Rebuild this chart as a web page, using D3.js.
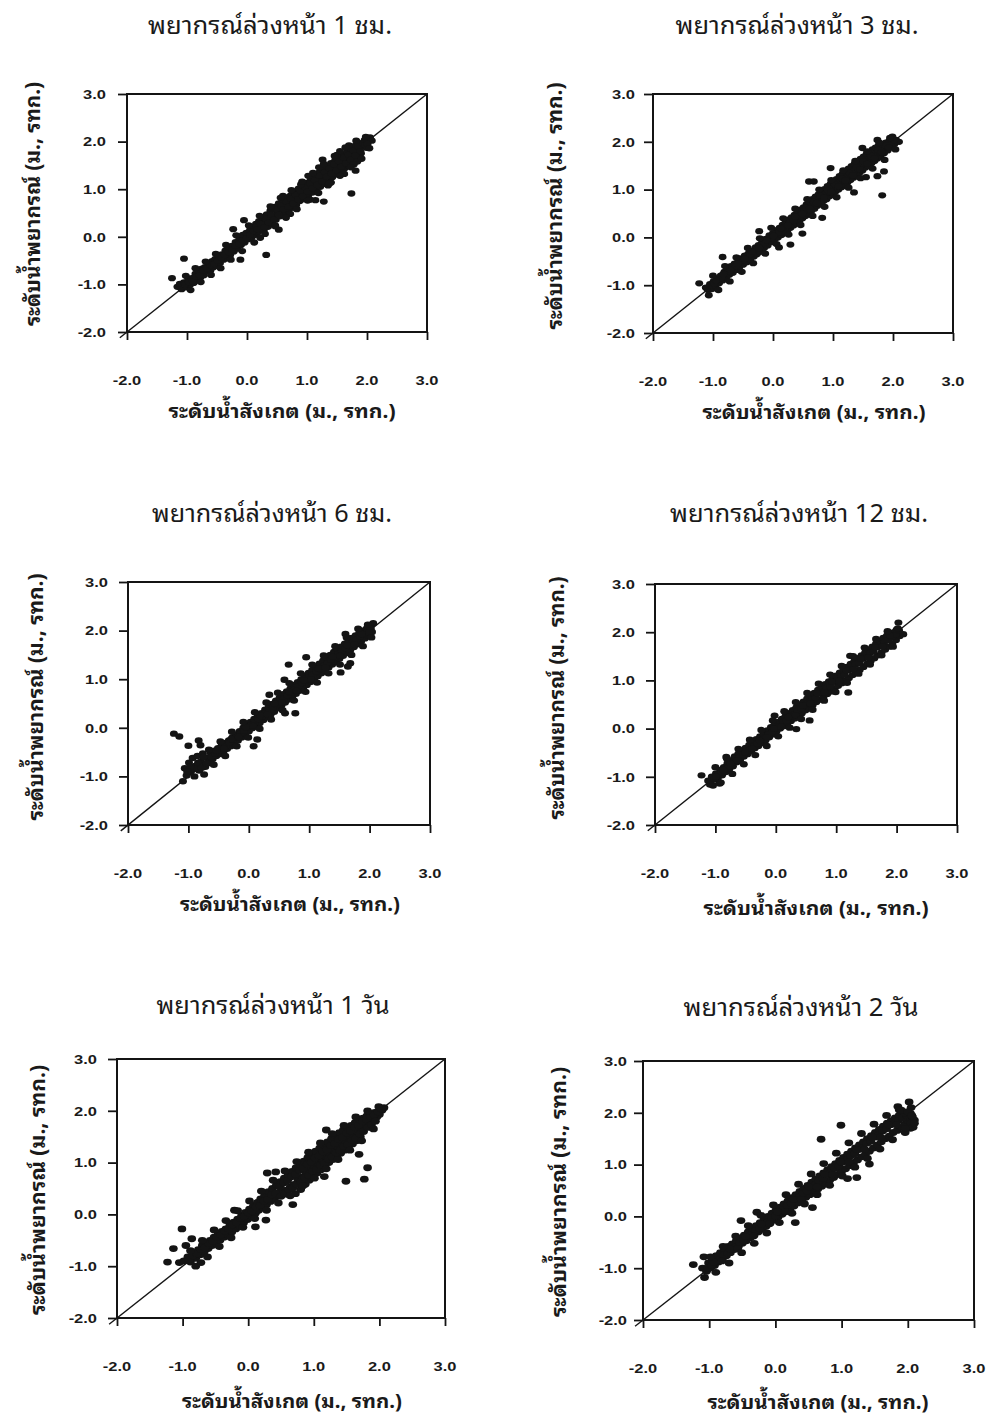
<!DOCTYPE html>
<html>
<head>
<meta charset="utf-8">
<script src="https://cdn.jsdelivr.net/npm/d3@7"></script>
<style>
  body { margin: 0; background: #fff; }
  svg { display: block; }
  .thai { font-family: "Noto Sans Thai Looped", "Noto Serif Thai", "Garuda", "Loma", "Tlwg Typo", "Waree", "Kinnari", "Norasi", "Liberation Sans", "Noto Sans Thai", "Noto Sans", sans-serif; fill: #1a1a1a; }
  .num { font-family: "Liberation Sans", Arial, sans-serif; font-weight: bold; font-size: 13.5px; fill: #1a1a1a; }
</style>
</head>
<body>
<svg id="chart" width="990" height="1418"></svg>
<script>
// Panel titles (forecast lead time)
const panelTitles = [
  "พยากรณ์ล่วงหน้า 1 ชม.",
  "พยากรณ์ล่วงหน้า 3 ชม.",
  "พยากรณ์ล่วงหน้า 6 ชม.",
  "พยากรณ์ล่วงหน้า 12 ชม.",
  "พยากรณ์ล่วงหน้า 1 วัน",
  "พยากรณ์ล่วงหน้า 2 วัน"
];
const xAxisLabel = "ระดับน้ำสังเกต (ม., รทก.)";
const yAxisLabel = "ระดับน้ำพยากรณ์ (ม., รทก.)";
const axisDomain = [-2, 3];
const tickValues = [-2, -1, 0, 1, 2, 3];

// [observed, forecast] water levels (m, MSL)
const pts1h = [
[-1.25,-0.87],[-1.05,-0.46],[-1.16,-1.05],[-1.12,-0.99],[-1.09,-1.1],[-1.05,-0.96],[-1.01,-1.06],[-0.98,-0.88],[-0.95,-1.01],[-0.92,-0.87],[-0.89,-0.97],[-0.86,-0.78],[-0.83,-0.92],[-0.8,-0.76],[-0.78,-0.86],[-0.75,-0.67],[-0.72,-0.81],[-0.7,-0.64],[-0.67,-0.72],[-0.64,-0.56],[-0.61,-0.71],[-0.58,-0.51],[-0.56,-0.64],[-0.53,-0.47],[-0.5,-0.61],[-0.47,-0.42],[-0.45,-0.55],[-0.42,-0.37],[-0.39,-0.48],[-0.36,-0.29],[-0.33,-0.43],[-0.3,-0.24],[-0.28,-0.38],[-0.25,-0.19],[-0.23,0.16],[-0.22,-0.31],[-0.19,-0.11],[-0.16,-0.25],[-0.13,-0.02],[-0.11,-0.48],[-0.1,-0.17],[-0.07,0.04],[-0.05,0.35],[-0.04,-0.12],[-0.01,0.08],[0.02,-0.05],[0.05,0.14],[0.07,-0.03],[0.1,0.21],[0.12,0.03],[0.15,0.27],[0.18,0.09],[0.2,0.33],[0.22,-0.02],[0.24,0.19],[0.26,0.4],[0.28,0.13],[0.3,0.29],[0.32,-0.38],[0.33,0.47],[0.35,0.21],[0.37,0.37],[0.39,0.55],[0.42,0.27],[0.44,0.45],[0.46,0.63],[0.48,0.36],[0.5,0.53],[0.53,0.15],[0.53,0.7],[0.55,0.43],[0.57,0.59],[0.59,0.77],[0.62,0.49],[0.64,0.67],[0.66,0.83],[0.68,0.55],[0.7,0.73],[0.73,0.87],[0.75,0.61],[0.77,0.79],[0.79,0.95],[0.82,0.67],[0.84,0.83],[0.86,1.01],[0.88,0.75],[0.9,0.91],[0.93,1.07],[0.95,0.79],[0.97,0.97],[1.0,1.13],[1.02,0.87],[1.04,1.03],[1.06,1.19],[1.09,0.93],[1.11,1.09],[1.13,1.27],[1.14,0.77],[1.15,0.99],[1.17,1.17],[1.2,1.35],[1.22,1.05],[1.24,1.23],[1.26,1.62],[1.27,1.41],[1.28,0.74],[1.29,1.11],[1.31,1.29],[1.33,1.49],[1.36,1.19],[1.38,1.37],[1.4,1.55],[1.42,1.25],[1.44,1.45],[1.47,1.61],[1.49,1.31],[1.51,1.49],[1.53,1.67],[1.56,1.37],[1.58,1.57],[1.6,1.73],[1.62,1.43],[1.64,1.61],[1.67,1.79],[1.69,1.49],[1.71,1.67],[1.73,1.85],[1.74,0.91],[1.76,1.57],[1.78,1.75],[1.8,1.91],[1.81,1.39],[1.83,1.65],[1.85,1.83],[1.88,1.97],[1.9,1.75],[1.93,1.91],[1.96,2.03],[1.99,1.87],[2.02,2.01],[2.05,2.09],[2.08,2.02],
[-1.03,-1.0],[-0.97,-0.95],[-0.91,-0.93],[-0.85,-0.84],[-0.79,-0.81],[-0.73,-0.71],[-0.67,-0.66],[-0.61,-0.6],[-0.55,-0.57],[-0.49,-0.5],[-0.43,-0.44],[-0.37,-0.38],[-0.31,-0.32],[-0.25,-0.27],[-0.19,-0.19],[-0.13,-0.15],[-0.07,-0.07],[-0.01,-0.03],[0.05,0.04],[0.11,0.12],[0.17,0.16],[0.23,0.27],[0.29,0.2],[0.31,0.38],[0.36,0.3],[0.4,0.46],[0.45,0.36],[0.49,0.58],[0.53,0.46],[0.57,0.66],[0.61,0.58],[0.65,0.74],[0.69,0.63],[0.73,0.8],[0.77,0.7],[0.81,0.88],[0.85,0.79],[0.89,0.96],[0.93,0.85],[0.97,1.04],[1.01,0.95],[1.05,1.12],[1.09,1.02],[1.13,1.19],[1.17,1.09],[1.21,1.28],[1.25,1.16],[1.29,1.36],[1.33,1.26],[1.37,1.44],[1.41,1.33],[1.45,1.52],[1.49,1.4],[1.53,1.59],[1.57,1.47],[1.61,1.66],[1.65,1.54],[1.69,1.72],[1.73,1.62],[1.77,1.82],[1.81,1.71],[1.85,1.9],[1.89,1.8],[1.93,1.96],[1.97,1.93],[2.01,1.95],
[0.6,0.86],[0.72,0.48],[0.9,1.1],[1.05,0.78],[1.2,1.46],[1.35,1.08],[1.5,1.72],[1.62,1.32],[1.7,1.92],[1.84,1.58],[1.02,1.28],[1.4,1.14],[1.55,1.8],[1.78,1.52],[0.4,0.62],[0.47,0.22],
[-1.02,-0.82],[-0.94,-1.12],[-0.86,-0.66],[-0.77,-0.95],[-0.69,-0.52],[-0.6,-0.8],[-0.52,-0.36],[-0.44,-0.66],[-0.35,-0.17],[-0.27,-0.48],[-0.18,0.03],[-0.08,-0.3],[0.03,0.24],[0.12,-0.12],[0.21,0.44],[0.3,0.06],[0.39,0.64],[0.47,0.24],[0.56,0.82],[0.65,0.4],[0.74,0.98],[0.83,0.58],[0.92,1.16],[1.01,0.76],[1.1,1.34],[1.19,0.92],[1.28,1.53],[1.37,1.12],[1.46,1.7],[1.55,1.28],[1.64,1.88],[1.73,1.46],[1.82,2.02],[1.91,1.64],[1.98,2.1],[2.04,1.86]
];
const pts3h = [
[-1.23,-0.96],[-1.07,-1.21],[-0.84,-0.41],[-1.12,-1.05],[-1.08,-1.1],[-1.05,-0.98],[-1.02,-1.08],[-0.99,-0.92],[-0.96,-1.02],[-0.93,-0.86],[-0.9,-0.96],[-0.87,-0.8],[-0.84,-0.9],[-0.81,-0.72],[-0.78,-0.84],[-0.76,-0.66],[-0.73,-0.78],[-0.7,-0.6],[-0.67,-0.74],[-0.64,-0.55],[-0.61,-0.68],[-0.58,-0.5],[-0.56,-0.62],[-0.53,-0.44],[-0.5,-0.57],[-0.47,-0.38],[-0.44,-0.52],[-0.41,-0.34],[-0.38,-0.46],[-0.35,-0.28],[-0.32,-0.4],[-0.29,-0.21],[-0.27,-0.35],[-0.24,-0.16],[-0.23,0.13],[-0.21,-0.3],[-0.18,-0.09],[-0.15,-0.22],[-0.12,-0.03],[-0.09,-0.17],[-0.06,0.04],[-0.03,-0.1],[0.0,0.09],[0.03,-0.04],[0.06,0.15],[0.08,0.0],[0.1,-0.21],[0.11,0.2],[0.14,0.05],[0.16,0.26],[0.19,0.1],[0.21,0.31],[0.24,0.15],[0.26,0.37],[0.29,-0.15],[0.29,0.2],[0.31,0.42],[0.34,0.25],[0.36,0.47],[0.39,0.3],[0.41,0.53],[0.44,0.35],[0.46,0.58],[0.49,0.08],[0.49,0.4],[0.51,0.63],[0.54,0.45],[0.56,0.69],[0.59,0.5],[0.6,1.17],[0.61,0.74],[0.64,0.56],[0.66,0.8],[0.68,1.17],[0.69,0.6],[0.71,0.85],[0.74,0.66],[0.76,0.9],[0.79,0.7],[0.81,0.96],[0.82,0.41],[0.84,0.76],[0.86,1.01],[0.89,0.8],[0.91,1.07],[0.94,0.86],[0.96,1.45],[0.96,1.12],[0.99,0.9],[1.01,1.17],[1.04,0.96],[1.06,1.22],[1.09,1.0],[1.11,1.28],[1.14,1.05],[1.16,1.33],[1.19,1.1],[1.21,1.38],[1.24,1.15],[1.26,1.44],[1.29,1.2],[1.31,1.49],[1.34,1.25],[1.35,0.94],[1.36,1.54],[1.39,1.3],[1.41,1.59],[1.44,1.35],[1.46,1.64],[1.49,1.87],[1.49,1.4],[1.51,1.69],[1.54,1.46],[1.55,1.26],[1.56,1.74],[1.59,1.5],[1.61,1.79],[1.64,1.55],[1.66,1.84],[1.69,1.6],[1.71,1.88],[1.74,2.04],[1.74,1.28],[1.74,1.65],[1.76,1.92],[1.79,1.7],[1.82,0.88],[1.82,1.95],[1.85,1.38],[1.85,1.76],[1.88,1.98],[1.91,1.82],[1.94,2.02],[1.97,1.88],[1.99,2.11],[2.02,1.95],[2.05,2.04],[2.1,2.0],
[-1.1,-1.07],[-1.04,-1.0],[-0.98,-0.97],[-0.92,-0.88],[-0.86,-0.85],[-0.8,-0.76],[-0.74,-0.72],[-0.68,-0.64],[-0.62,-0.6],[-0.56,-0.52],[-0.5,-0.48],[-0.44,-0.4],[-0.38,-0.36],[-0.32,-0.28],[-0.26,-0.24],[-0.2,-0.15],[-0.14,-0.12],[-0.08,-0.03],[-0.02,0.0],[0.04,0.08],[0.1,0.11],[0.16,0.2],[0.22,0.23],[0.28,0.32],[0.34,0.35],[0.4,0.44],[0.46,0.46],[0.52,0.56],[0.58,0.59],[0.64,0.68],[0.7,0.71],[0.76,0.8],[0.82,0.83],[0.88,0.92],[0.94,0.95],[1.0,1.04],[1.06,1.07],[1.12,1.16],[1.18,1.19],[1.24,1.28],[1.3,1.31],[1.36,1.4],[1.42,1.43],[1.48,1.52],[1.54,1.55],[1.6,1.64],[1.66,1.67],[1.72,1.76],[1.78,1.79],[1.84,1.88],[1.9,1.9],[1.96,1.97],[2.02,2.03],
[-0.95,-0.9],[-0.83,-0.77],[-0.71,-0.68],[-0.59,-0.55],[-0.47,-0.45],[-0.35,-0.3],[-0.23,-0.22],[-0.11,-0.06],[0.01,0.03],[0.13,0.19],[0.25,0.25],[0.37,0.43],[0.49,0.49],[0.55,0.62],[0.61,0.6],[0.67,0.75],[0.73,0.72],[0.79,0.87],[0.85,0.83],[0.91,0.99],[0.97,0.95],[1.03,1.11],[1.09,1.07],[1.15,1.23],[1.21,1.19],[1.27,1.35],[1.33,1.3],[1.39,1.47],[1.45,1.42],[1.51,1.59],[1.57,1.54],[1.63,1.71],[1.69,1.66],[1.75,1.83],[1.81,1.78],[1.87,1.93],[1.93,1.88],
[-1.0,-0.8],[-0.91,-1.1],[-0.8,-0.6],[-0.72,-0.92],[-0.61,-0.42],[-0.52,-0.72],[-0.42,-0.22],[-0.33,-0.54],[-0.22,-0.02],[-0.13,-0.34],[-0.03,0.2],[0.06,-0.14],[0.17,0.4],[0.26,0.06],[0.37,0.6],[0.46,0.26],[0.57,0.8],[0.66,0.45],[0.77,1.0],[0.86,0.64],[0.97,1.2],[1.06,0.84],[1.17,1.4],[1.26,1.04],[1.37,1.6],[1.46,1.24],[1.57,1.8],[1.66,1.44],[1.77,1.98],[1.86,1.62],[1.95,2.08],[2.04,1.84]
];
const pts6h = [
[-1.24,-0.12],[-1.15,-0.18],[-1.0,-0.37],[-0.83,-0.26],[-0.8,-0.36],[-1.09,-1.1],[-1.06,-0.83],[-1.03,-0.98],[-0.99,-0.72],[-0.96,-0.9],[-0.93,-0.62],[-0.9,-1.0],[-0.88,-0.78],[-0.85,-0.58],[-0.82,-0.88],[-0.79,-0.7],[-0.76,-0.53],[-0.74,-0.96],[-0.72,-0.8],[-0.69,-0.62],[-0.66,-0.72],[-0.63,-0.52],[-0.6,-0.64],[-0.57,-0.47],[-0.54,-0.58],[-0.51,-0.42],[-0.48,-0.54],[-0.45,-0.37],[-0.42,-0.49],[-0.39,-0.31],[-0.36,-0.43],[-0.33,-0.26],[-0.3,-0.38],[-0.27,-0.2],[-0.24,-0.33],[-0.21,-0.14],[-0.18,-0.26],[-0.15,-0.07],[-0.12,-0.2],[-0.09,0.0],[-0.06,-0.13],[-0.03,0.06],[0.0,-0.07],[0.03,0.12],[0.06,-0.01],[0.08,-0.38],[0.09,0.18],[0.12,0.05],[0.14,-0.24],[0.15,0.25],[0.18,0.1],[0.21,0.3],[0.24,0.16],[0.27,0.37],[0.3,0.22],[0.33,0.43],[0.34,0.68],[0.36,0.27],[0.39,0.49],[0.42,0.33],[0.45,0.56],[0.48,0.4],[0.51,0.62],[0.54,0.46],[0.57,0.69],[0.59,0.99],[0.6,0.3],[0.6,0.52],[0.63,0.75],[0.66,1.3],[0.66,0.58],[0.69,0.81],[0.72,0.64],[0.75,0.88],[0.77,0.3],[0.78,0.7],[0.81,0.94],[0.84,0.76],[0.87,1.0],[0.9,0.82],[0.93,1.07],[0.95,1.45],[0.96,0.88],[0.99,1.13],[1.02,0.94],[1.05,1.19],[1.08,1.0],[1.11,1.25],[1.14,1.06],[1.17,1.32],[1.2,1.12],[1.23,1.38],[1.26,1.18],[1.29,1.44],[1.32,1.24],[1.35,1.5],[1.38,1.3],[1.41,1.56],[1.44,1.36],[1.47,1.62],[1.5,1.42],[1.52,1.14],[1.53,1.67],[1.56,1.48],[1.59,1.73],[1.6,1.93],[1.62,1.54],[1.64,1.26],[1.65,1.79],[1.68,1.33],[1.68,1.6],[1.71,1.85],[1.74,1.66],[1.77,1.9],[1.8,1.72],[1.83,1.95],[1.86,1.78],[1.89,2.0],[1.92,1.84],[1.95,2.04],[1.98,1.9],[2.01,2.08],[2.04,1.97],[2.06,2.15],
[-0.62,-0.6],[-0.56,-0.53],[-0.5,-0.48],[-0.44,-0.42],[-0.38,-0.37],[-0.32,-0.3],[-0.26,-0.24],[-0.2,-0.19],[-0.14,-0.12],[-0.08,-0.06],[-0.02,0.0],[0.04,0.06],[0.1,0.11],[0.16,0.18],[0.22,0.23],[0.28,0.3],[0.34,0.35],[0.4,0.42],[0.46,0.48],[0.52,0.55],[0.58,0.6],[0.64,0.67],[0.7,0.72],[0.76,0.79],[0.82,0.85],[0.88,0.92],[0.94,0.97],[1.0,1.04],[1.06,1.09],[1.12,1.16],[1.18,1.21],[1.24,1.28],[1.3,1.33],[1.36,1.4],[1.42,1.45],[1.48,1.52],[1.54,1.57],[1.6,1.64],[1.66,1.69],[1.72,1.76],[1.78,1.81],[1.84,1.88],[1.9,1.92],[1.96,1.98],[2.02,2.04],
[-0.9,-0.85],[-0.84,-0.72],[-0.78,-0.82],[-0.7,-0.74],[-0.75,-0.6],[-0.97,-0.8],[-1.02,-0.9],
[-0.53,-0.47],[-0.41,-0.43],[-0.29,-0.23],[-0.17,-0.19],[-0.05,0.01],[0.07,0.04],[0.19,0.26],[0.31,0.28],[0.43,0.5],[0.55,0.52],[0.67,0.74],[0.79,0.76],[0.91,0.98],[1.03,1.0],[1.15,1.22],[1.27,1.24],[1.39,1.46],[1.51,1.48],[1.63,1.7],[1.75,1.72],[1.87,1.93],[1.99,1.96],
[-0.66,-0.45],[-0.58,-0.76],[-0.47,-0.28],[-0.39,-0.58],[-0.28,-0.08],[-0.2,-0.38],[-0.09,0.12],[-0.01,-0.2],[0.1,0.32],[0.18,-0.02],[0.29,0.52],[0.37,0.17],[0.48,0.72],[0.56,0.36],[0.67,0.92],[0.75,0.56],[0.86,1.12],[0.94,0.74],[1.05,1.3],[1.13,0.93],[1.24,1.49],[1.32,1.12],[1.43,1.68],[1.51,1.3],[1.62,1.86],[1.7,1.5],[1.81,2.04],[1.89,1.68],[1.97,2.12],[2.03,1.86]
];
const pts12h = [
[-1.23,-0.97],[-1.12,-1.08],[-1.09,-1.16],[-1.06,-1.0],[-1.04,-1.18],[-1.02,-1.06],[-0.99,-0.93],[-0.96,-1.04],[-0.93,-1.14],[-0.92,-0.86],[-0.89,-0.97],[-0.86,-0.8],[-0.83,-0.9],[-0.82,-0.59],[-0.8,-0.72],[-0.77,-0.84],[-0.74,-0.66],[-0.71,-0.78],[-0.68,-0.58],[-0.65,-0.7],[-0.62,-0.52],[-0.59,-0.64],[-0.56,-0.46],[-0.53,-0.58],[-0.5,-0.4],[-0.47,-0.53],[-0.44,-0.34],[-0.41,-0.47],[-0.38,-0.28],[-0.35,-0.41],[-0.32,-0.22],[-0.29,-0.36],[-0.26,-0.16],[-0.23,-0.3],[-0.2,-0.1],[-0.17,-0.24],[-0.14,-0.04],[-0.11,-0.18],[-0.08,0.03],[-0.05,-0.12],[-0.02,0.27],[-0.02,0.08],[0.01,-0.06],[0.04,0.14],[0.07,0.0],[0.1,0.2],[0.13,0.05],[0.16,0.26],[0.19,0.1],[0.22,0.32],[0.25,0.16],[0.28,0.38],[0.31,0.21],[0.34,-0.01],[0.34,0.44],[0.37,0.27],[0.4,0.5],[0.43,0.32],[0.46,0.56],[0.49,0.38],[0.52,0.62],[0.55,0.43],[0.56,0.17],[0.58,0.68],[0.61,0.49],[0.64,0.74],[0.67,0.55],[0.7,0.8],[0.73,0.6],[0.76,0.86],[0.79,0.66],[0.82,0.92],[0.85,0.72],[0.88,0.98],[0.91,0.77],[0.94,1.04],[0.97,0.83],[1.0,1.1],[1.03,0.89],[1.06,1.16],[1.09,0.94],[1.12,1.22],[1.15,1.0],[1.18,1.28],[1.2,0.75],[1.21,1.05],[1.23,1.51],[1.24,1.34],[1.27,1.11],[1.3,1.4],[1.33,1.17],[1.36,1.46],[1.39,1.22],[1.42,1.52],[1.45,1.28],[1.48,1.58],[1.51,1.34],[1.54,1.64],[1.57,1.4],[1.6,1.7],[1.63,1.46],[1.66,1.76],[1.69,1.52],[1.72,1.82],[1.75,1.58],[1.78,1.88],[1.81,1.64],[1.84,1.93],[1.87,1.7],[1.9,1.98],[1.93,1.76],[1.96,2.0],[1.99,1.84],[2.03,2.2],[2.05,1.92],[2.11,1.96],
[-1.08,-1.08],[-1.02,-1.03],[-0.96,-0.95],[-0.9,-0.91],[-0.84,-0.84],[-0.78,-0.79],[-0.72,-0.71],[-0.66,-0.67],[-0.6,-0.6],[-0.54,-0.55],[-0.48,-0.47],[-0.42,-0.43],[-0.36,-0.36],[-0.3,-0.31],[-0.24,-0.23],[-0.18,-0.19],[-0.12,-0.12],[-0.06,-0.07],[0.0,0.01],[0.06,0.05],[0.12,0.13],[0.18,0.17],[0.24,0.25],[0.3,0.29],[0.36,0.37],[0.42,0.41],[0.48,0.49],[0.54,0.53],[0.6,0.61],[0.66,0.64],[0.72,0.73],[0.78,0.76],[0.84,0.85],[0.9,0.88],[0.96,0.97],[1.02,1.0],[1.08,1.09],[1.14,1.12],[1.2,1.21],[1.26,1.24],[1.32,1.33],[1.38,1.36],[1.44,1.45],[1.5,1.48],[1.56,1.57],[1.62,1.6],[1.68,1.69],[1.74,1.72],[1.8,1.8],[1.86,1.84],[1.92,1.9],[1.98,1.95],[2.04,2.04],
[-0.99,-1.0],[-0.87,-0.86],[-0.75,-0.73],[-0.63,-0.66],[-0.51,-0.49],[-0.39,-0.42],[-0.27,-0.24],[-0.15,-0.18],[-0.03,0.0],[0.09,0.04],[0.21,0.24],[0.33,0.28],[0.45,0.48],[0.57,0.52],[0.69,0.73],[0.81,0.75],[0.93,0.97],[1.05,0.99],[1.17,1.21],[1.29,1.23],[1.41,1.45],[1.53,1.47],[1.65,1.69],[1.77,1.71],[1.89,1.93],[2.0,2.05],
[-1.0,-0.8],[-0.91,-1.12],[-0.81,-0.62],[-0.72,-0.94],[-0.62,-0.42],[-0.53,-0.74],[-0.43,-0.23],[-0.34,-0.55],[-0.24,-0.03],[-0.15,-0.36],[-0.05,0.17],[0.04,-0.16],[0.14,0.36],[0.23,0.02],[0.33,0.55],[0.42,0.2],[0.52,0.74],[0.61,0.39],[0.71,0.93],[0.8,0.58],[0.9,1.12],[0.99,0.76],[1.09,1.3],[1.18,0.95],[1.28,1.5],[1.37,1.14],[1.47,1.68],[1.56,1.33],[1.66,1.86],[1.75,1.52],[1.85,2.02],[1.94,1.7],[2.02,2.08]
];
const pts1d = [
[-1.23,-0.92],[-1.14,-0.66],[-1.01,-0.28],[-1.05,-0.93],[-0.95,-0.6],[-0.86,-0.47],[-0.72,-0.93],[-0.98,-0.9],[-0.92,-0.82],[-0.88,-0.92],[-0.84,-0.74],[-0.8,-0.85],[-0.76,-0.68],[-0.73,-0.78],[-0.7,-0.6],[-0.67,-0.72],[-0.64,-0.55],[-0.61,-0.66],[-0.58,-0.5],[-0.55,-0.6],[-0.52,-0.44],[-0.49,-0.55],[-0.46,-0.39],[-0.43,-0.5],[-0.4,-0.33],[-0.37,-0.44],[-0.34,-0.28],[-0.31,-0.39],[-0.28,-0.21],[-0.25,-0.34],[-0.22,-0.15],[-0.21,0.08],[-0.19,-0.28],[-0.16,-0.09],[-0.13,-0.22],[-0.1,-0.02],[-0.07,-0.16],[-0.04,0.04],[-0.01,-0.1],[0.02,0.1],[0.05,-0.04],[0.08,0.17],[0.11,-0.24],[0.11,0.02],[0.14,0.23],[0.16,0.08],[0.19,0.3],[0.22,0.14],[0.25,0.37],[0.27,-0.11],[0.28,0.19],[0.29,0.8],[0.31,0.44],[0.34,0.25],[0.37,0.5],[0.4,0.3],[0.42,0.82],[0.43,0.57],[0.46,0.36],[0.49,0.63],[0.52,0.42],[0.55,0.7],[0.58,0.47],[0.61,0.76],[0.64,0.53],[0.67,0.83],[0.68,0.19],[0.7,0.58],[0.72,0.4],[0.73,0.9],[0.76,0.66],[0.79,0.96],[0.8,0.48],[0.82,0.72],[0.85,1.03],[0.87,0.58],[0.88,0.8],[0.91,1.1],[0.93,0.66],[0.94,0.87],[0.97,1.16],[0.99,0.74],[1.0,0.94],[1.03,1.22],[1.05,0.8],[1.06,1.0],[1.09,1.28],[1.11,0.86],[1.12,1.06],[1.15,1.34],[1.16,0.73],[1.17,0.94],[1.18,1.12],[1.19,1.63],[1.21,1.4],[1.23,1.0],[1.24,1.18],[1.27,1.46],[1.29,1.06],[1.3,1.24],[1.33,1.52],[1.35,1.12],[1.36,1.3],[1.39,1.58],[1.41,1.18],[1.42,1.36],[1.45,1.63],[1.47,1.24],[1.48,1.42],[1.49,0.64],[1.51,1.68],[1.53,1.3],[1.54,1.48],[1.57,1.72],[1.59,1.36],[1.6,1.54],[1.63,1.77],[1.65,1.42],[1.66,1.6],[1.69,1.16],[1.69,1.84],[1.71,1.5],[1.72,1.66],[1.75,1.86],[1.77,0.68],[1.78,1.72],[1.81,1.9],[1.82,0.9],[1.84,1.78],[1.87,1.94],[1.9,1.84],[1.93,1.97],[1.96,1.88],[2.0,1.93],[2.04,2.01],[2.07,2.06],
[-0.9,-0.88],[-0.84,-0.8],[-0.78,-0.76],[-0.72,-0.68],[-0.66,-0.64],[-0.6,-0.56],[-0.54,-0.52],[-0.48,-0.44],[-0.42,-0.4],[-0.36,-0.32],[-0.3,-0.28],[-0.24,-0.2],[-0.18,-0.16],[-0.12,-0.08],[-0.06,-0.04],[0.0,0.03],[0.06,0.06],[0.12,0.14],[0.18,0.17],[0.24,0.26],[0.3,0.29],[0.36,0.38],[0.42,0.41],
[0.48,0.53],[0.54,0.61],[0.6,0.65],[0.66,0.73],[0.72,0.77],[0.78,0.85],[0.84,0.89],[0.9,0.97],[0.96,1.01],[1.02,1.09],[1.08,1.13],[1.14,1.21],[1.2,1.25],[1.26,1.33],[1.32,1.37],[1.38,1.45],[1.44,1.49],[1.5,1.57],[1.56,1.61],[1.62,1.68],[1.68,1.72],[1.74,1.8],[1.8,1.83],[1.86,1.89],[1.92,1.92],[1.98,1.98],[2.03,2.04],
[0.5,0.35],[0.56,0.39],[0.62,0.47],[0.68,0.51],[0.74,0.58],[0.8,0.63],[0.86,0.71],[0.92,0.75],[0.98,0.83],[1.04,0.87],[1.1,0.95],[1.16,0.99],[1.22,1.07],[1.28,1.11],[1.34,1.19],[1.4,1.23],[1.46,1.31],[1.52,1.35],[1.58,1.43],[1.64,1.47],[1.7,1.55],[1.76,1.6],[1.82,1.68],[1.88,1.73],[1.94,1.8],
[-0.88,-0.7],[-0.8,-1.0],[-0.7,-0.5],[-0.62,-0.82],[-0.52,-0.3],[-0.44,-0.62],[-0.34,-0.12],[-0.26,-0.45],[-0.16,0.07],[-0.08,-0.25],[0.02,0.26],[0.1,-0.08],[0.2,0.45],[0.28,0.08],[0.38,0.66],[0.46,0.22],[0.56,0.84],[0.64,0.36],[0.74,1.02],[0.83,0.55],[0.92,1.2],[1.01,0.7],[1.1,1.38],[1.19,0.88],[1.28,1.56],[1.37,1.06],[1.46,1.72],[1.55,1.24],[1.64,1.88],[1.73,1.42],[1.82,2.0],[1.91,1.65],[1.99,2.08]
];
const pts2d = [
[-1.24,-0.93],[-1.07,-1.18],[-1.08,-0.78],[-1.1,-1.0],[-1.04,-1.06],[-1.01,-0.9],[-0.98,-1.0],[-0.95,-0.84],[-0.92,-0.95],[-0.89,-0.76],[-0.86,-0.88],[-0.83,-0.7],[-0.8,-0.82],[-0.77,-0.64],[-0.74,-0.76],[-0.71,-0.58],[-0.68,-0.7],[-0.65,-0.53],[-0.62,-0.64],[-0.59,-0.47],[-0.56,-0.58],[-0.53,-0.42],[-0.52,-0.08],[-0.5,-0.52],[-0.47,-0.36],[-0.44,-0.47],[-0.41,-0.3],[-0.38,-0.41],[-0.35,-0.24],[-0.32,-0.36],[-0.29,-0.18],[-0.28,0.08],[-0.26,-0.3],[-0.23,-0.12],[-0.2,-0.25],[-0.17,-0.06],[-0.14,-0.19],[-0.11,0.0],[-0.08,-0.13],[-0.05,0.06],[-0.02,-0.07],[0.01,0.12],[0.04,-0.01],[0.07,0.18],[0.1,0.04],[0.13,0.24],[0.16,0.1],[0.19,0.3],[0.22,0.15],[0.25,0.36],[0.28,0.2],[0.3,-0.12],[0.31,0.42],[0.34,0.26],[0.37,0.48],[0.4,0.31],[0.43,0.54],[0.46,0.37],[0.49,0.6],[0.52,0.42],[0.55,0.66],[0.56,0.17],[0.58,0.47],[0.61,0.72],[0.64,0.53],[0.67,0.78],[0.69,1.49],[0.7,0.58],[0.73,0.84],[0.76,0.64],[0.79,0.9],[0.82,0.7],[0.85,0.96],[0.88,0.75],[0.91,1.02],[0.94,0.81],[0.97,1.08],[0.99,1.76],[1.0,0.87],[1.03,1.14],[1.06,0.92],[1.09,0.73],[1.09,1.2],[1.12,0.98],[1.15,1.26],[1.18,1.04],[1.21,1.32],[1.23,0.75],[1.24,1.09],[1.27,1.38],[1.3,1.15],[1.33,1.44],[1.36,1.2],[1.39,1.5],[1.42,1.01],[1.42,1.26],[1.45,1.56],[1.48,1.32],[1.51,1.62],[1.54,1.38],[1.57,1.68],[1.6,1.44],[1.63,1.74],[1.66,1.5],[1.69,1.8],[1.72,1.55],[1.75,1.85],[1.78,1.62],[1.81,1.9],[1.84,1.66],[1.85,2.12],[1.87,1.95],[1.9,1.72],[1.93,2.0],[1.96,1.78],[1.99,1.86],[2.02,2.21],[2.04,1.7],[2.07,1.92],[2.1,1.86],
[-1.02,-1.0],[-0.96,-0.95],[-0.9,-0.87],[-0.84,-0.83],[-0.78,-0.75],[-0.72,-0.71],[-0.66,-0.63],[-0.6,-0.59],[-0.54,-0.51],[-0.48,-0.47],[-0.42,-0.39],[-0.36,-0.35],[-0.3,-0.27],[-0.24,-0.23],[-0.18,-0.15],[-0.12,-0.11],[-0.06,-0.03],[0.0,0.01],[0.06,0.09],[0.12,0.13],[0.18,0.21],[0.24,0.25],[0.3,0.33],[0.36,0.37],[0.42,0.45],[0.48,0.49],[0.54,0.57],[0.6,0.61],[0.66,0.69],[0.72,0.73],[0.78,0.81],[0.84,0.85],[0.9,0.93],[0.96,0.97],[1.02,1.05],[1.08,1.09],[1.14,1.17],[1.2,1.21],[1.26,1.29],[1.32,1.33],[1.38,1.41],[1.44,1.45],[1.5,1.53],[1.56,1.57],[1.62,1.65],[1.68,1.69],[1.74,1.77],[1.8,1.8],[1.86,1.85],[1.92,1.9],[1.98,1.95],[2.04,1.99],
[-0.93,-0.88],[-0.81,-0.86],[-0.69,-0.63],[-0.57,-0.62],[-0.45,-0.39],[-0.33,-0.38],[-0.21,-0.15],[-0.09,-0.14],[0.03,0.09],[0.15,0.09],[0.27,0.33],[0.39,0.33],[0.51,0.57],[0.63,0.57],[0.75,0.81],[0.87,0.81],[0.99,1.05],[1.11,1.05],[1.23,1.29],[1.35,1.29],[1.47,1.53],[1.59,1.53],[1.71,1.77],[1.83,1.77],[1.95,2.0],[2.05,1.8],
[-0.98,-0.78],[-0.9,-1.08],[-0.79,-0.58],[-0.7,-0.9],[-0.6,-0.38],[-0.51,-0.7],[-0.41,-0.18],[-0.32,-0.52],[-0.22,0.02],[-0.13,-0.32],[-0.03,0.22],[0.06,-0.12],[0.16,0.42],[0.25,0.06],[0.35,0.62],[0.44,0.24],[0.54,0.82],[0.63,0.42],[0.73,1.02],[0.82,0.6],[0.92,1.22],[1.01,0.78],[1.11,1.42],[1.2,0.95],[1.3,1.6],[1.39,1.12],[1.49,1.78],[1.58,1.3],[1.68,1.95],[1.77,1.48],[1.87,2.06],[1.96,1.62],[2.05,2.1],[2.08,1.72],
[1.9,2.05],[2.0,2.02],[2.06,1.95],[1.96,1.7],[2.1,1.8]
];
const panelSeries = [pts1h, pts3h, pts6h, pts12h, pts1d, pts2d];

// Page layout: plot frame in pixels and text anchors per panel
const layout = [
  { l: 127, r: 427, t: 94,   b: 332,  titleX: 270, titleY: 34,   titleW: 244, xlabX: 282, xlabY: 418,  xlabW: 227, ylabX: 40,  ylabY: 204,  ylabW: 244, tickGap: 21 },
  { l: 653, r: 953, t: 94,   b: 333,  titleX: 797, titleY: 34,   titleW: 243, xlabX: 814, xlabY: 419,  xlabW: 223, ylabX: 562, ylabY: 206,  ylabW: 247, tickGap: 18 },
  { l: 128, r: 430, t: 582,  b: 825,  titleX: 272, titleY: 522,  titleW: 240, xlabX: 290, xlabY: 911,  xlabW: 220, ylabX: 43,  ylabY: 697,  ylabW: 247, tickGap: 20 },
  { l: 655, r: 957, t: 584,  b: 825,  titleX: 799, titleY: 522,  titleW: 258, xlabX: 816, xlabY: 915,  xlabW: 225, ylabX: 564, ylabY: 698,  ylabW: 243, tickGap: 20 },
  { l: 117, r: 445, t: 1059, b: 1318, titleX: 273, titleY: 1014, titleW: 233, xlabX: 292, xlabY: 1408, xlabW: 220, ylabX: 45,  ylabY: 1190, ylabW: 250, tickGap: 20 },
  { l: 643, r: 974, t: 1061, b: 1320, titleX: 801, titleY: 1016, titleW: 235, xlabX: 818, xlabY: 1409, xlabW: 221, ylabX: 566, ylabY: 1192, ylabW: 250, tickGap: 16 }
];

const svg = d3.select("#chart");
const ink = "#141414";
const fmt = v => v.toFixed(1);

layout.forEach((L, i) => {
  const x = d3.scaleLinear().domain(axisDomain).range([L.l, L.r]);
  const y = d3.scaleLinear().domain(axisDomain).range([L.b, L.t]);
  const g = svg.append("g");

  // 1:1 reference line, under the points
  g.append("line")
    .attr("x1", x(-2.12)).attr("y1", y(-2.12))
    .attr("x2", x(3)).attr("y2", y(3))
    .attr("stroke", ink).attr("stroke-width", 1.4);

  // points
  const rx = Math.abs(x(0.066) - x(0));
  const ry = Math.abs(y(0.066) - y(0));
  g.append("g").selectAll("ellipse").data(panelSeries[i]).join("ellipse")
    .attr("cx", d => x(d[0])).attr("cy", d => y(d[1]))
    .attr("rx", rx).attr("ry", ry).attr("fill", ink);

  // ticks via d3 axes
  const yAxis = d3.axisLeft(y).tickValues(tickValues).tickSize(9).tickFormat("");
  const xAxis = d3.axisBottom(x).tickValues(tickValues).tickSize(8).tickFormat("");
  const ya = g.append("g").attr("transform", `translate(${L.l},0)`).call(yAxis);
  const xa = g.append("g").attr("transform", `translate(0,${L.b})`).call(xAxis);
  [ya, xa].forEach(a => {
    a.select(".domain").remove();
    a.selectAll(".tick line").attr("stroke", ink).attr("stroke-width", 1.8);
  });

  // frame
  g.append("rect")
    .attr("x", L.l).attr("y", L.t).attr("width", L.r - L.l).attr("height", L.b - L.t)
    .attr("fill", "none").attr("stroke", ink).attr("stroke-width", 2);

  // y tick labels
  g.append("g").selectAll("text").data(tickValues).join("text")
    .attr("class", "num")
    .attr("transform", d => `translate(${L.l - L.tickGap},${y(d)}) scale(1.22,1)`)
    .attr("text-anchor", "end").attr("dy", "0.36em")
    .text(fmt);

  // x tick labels
  g.append("g").selectAll("text").data(tickValues).join("text")
    .attr("class", "num")
    .attr("transform", d => `translate(${x(d)},${L.b + 53}) scale(1.22,1)`)
    .attr("text-anchor", "middle")
    .text(fmt);

  // title
  g.append("text").attr("class", "thai")
    .attr("x", L.titleX).attr("y", L.titleY)
    .attr("text-anchor", "middle")
    .attr("font-size", 25)
    .attr("textLength", L.titleW).attr("lengthAdjust", "spacingAndGlyphs")
    .text(panelTitles[i]);

  // x axis label
  g.append("text").attr("class", "thai")
    .attr("x", L.xlabX).attr("y", L.xlabY)
    .attr("text-anchor", "middle")
    .attr("font-size", 19.5).attr("font-weight", "bold")
    .attr("textLength", L.xlabW).attr("lengthAdjust", "spacingAndGlyphs")
    .text(xAxisLabel);

  // y axis label
  g.append("text").attr("class", "thai")
    .attr("transform", `translate(${L.ylabX},${L.ylabY}) rotate(-90)`)
    .attr("text-anchor", "middle")
    .attr("font-size", 21).attr("font-weight", "bold")
    .attr("textLength", L.ylabW).attr("lengthAdjust", "spacingAndGlyphs")
    .text(yAxisLabel);
});
</script>
</body>
</html>
